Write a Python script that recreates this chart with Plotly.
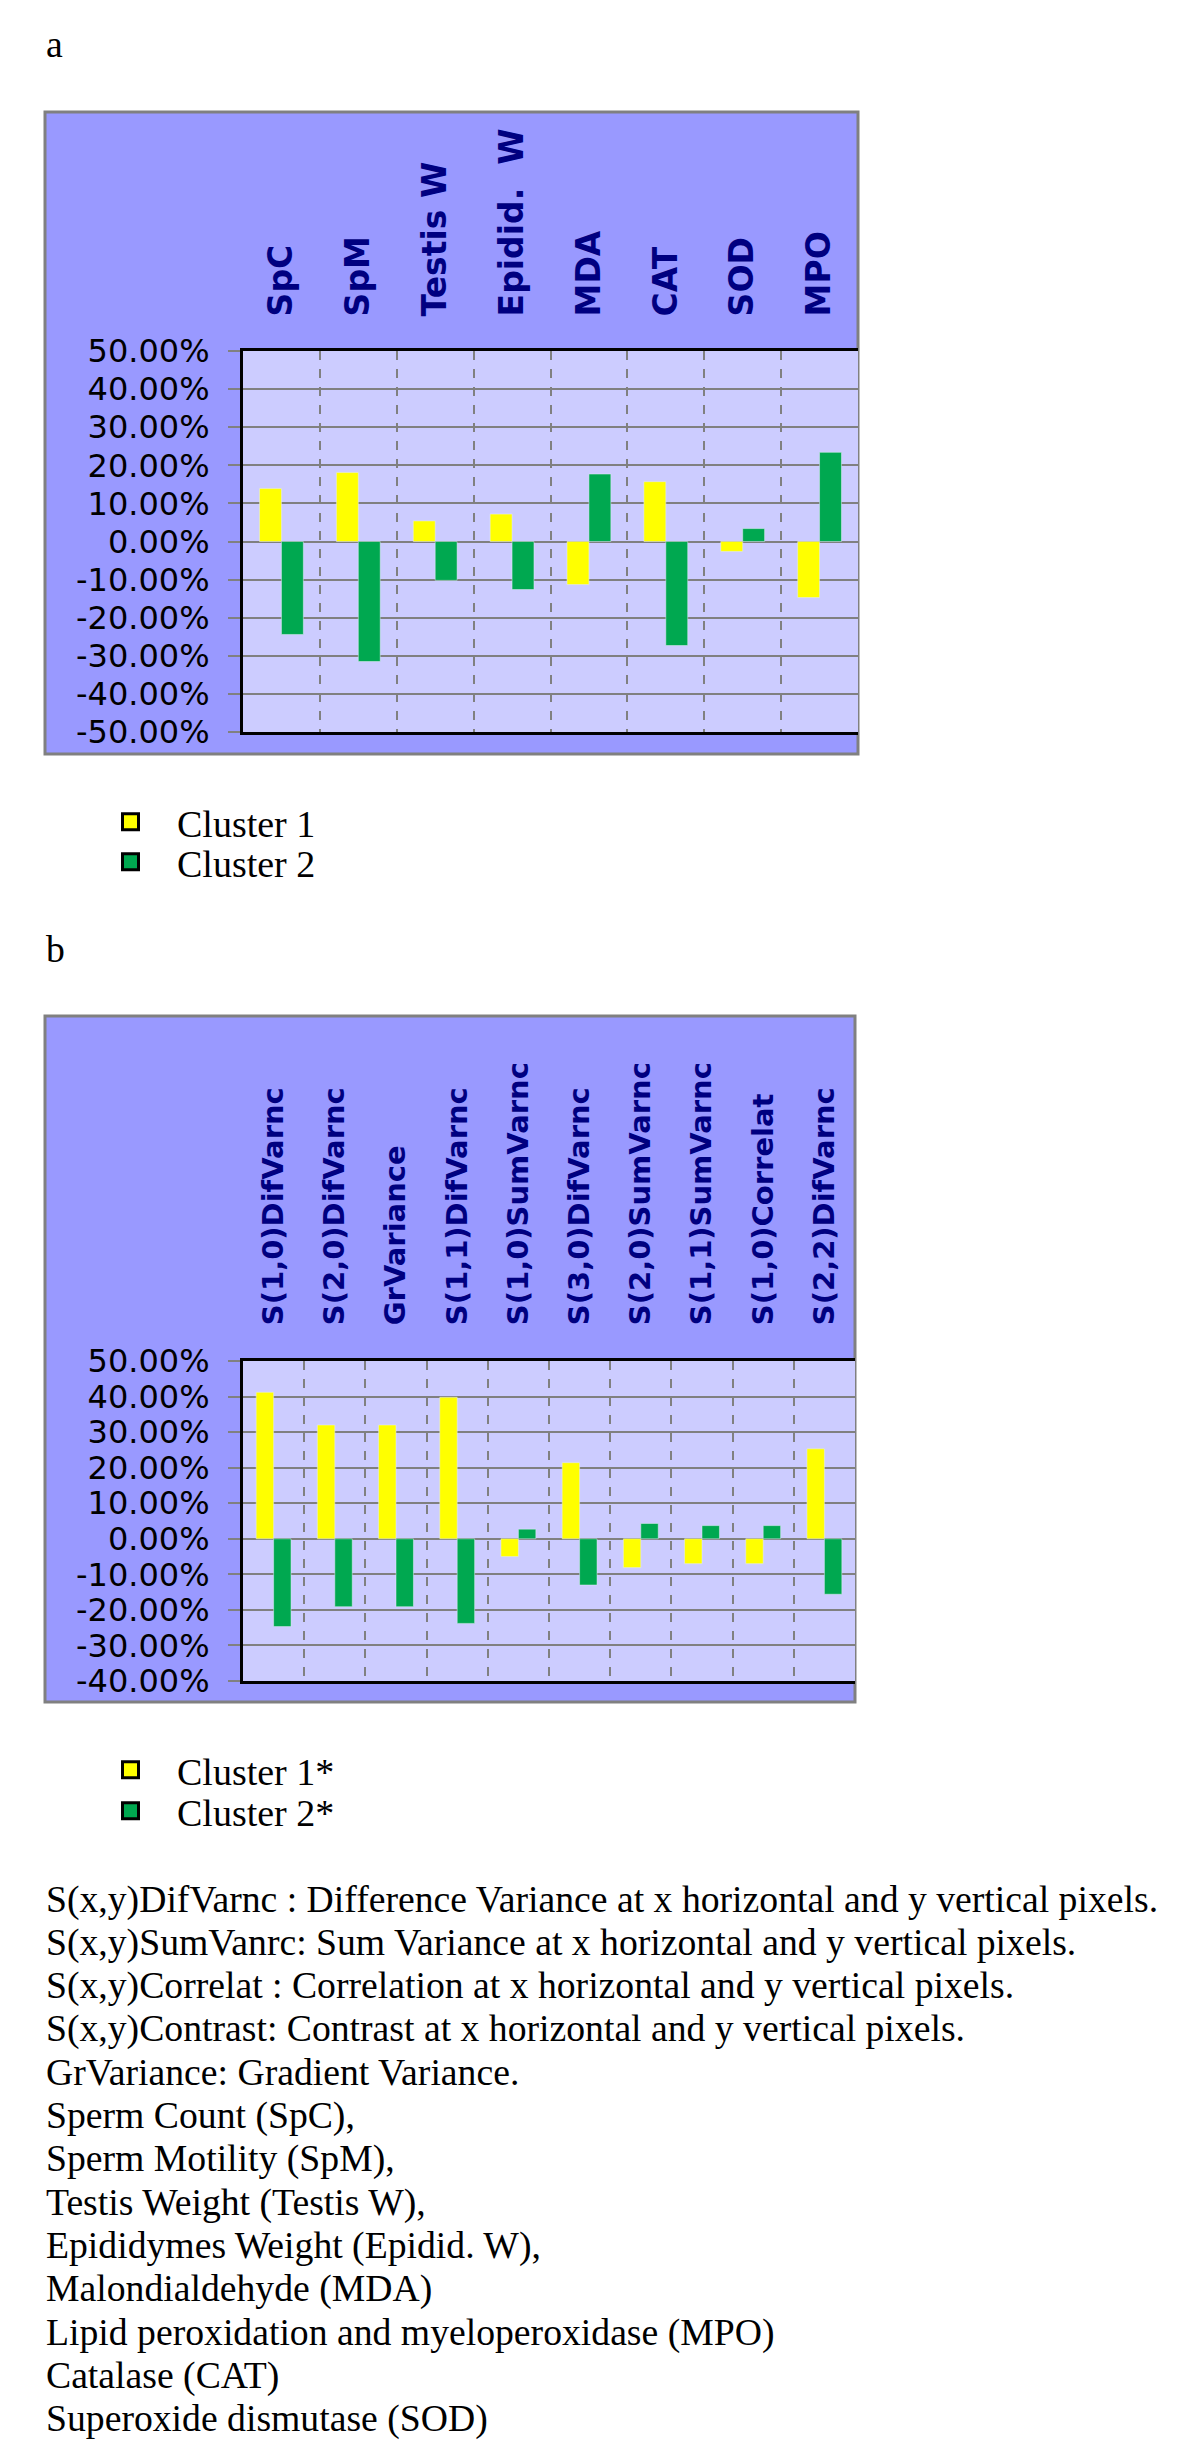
import plotly.graph_objects as go

W, H = 1200, 2463
OFF = 8  # the page body adds an 8px margin; positions below are page pixels

# panel a
cats_a = ["SpC", "SpM", "Testis W", "Epidid.  W", "MDA", "CAT", "SOD", "MPO"]
cluster1_a = [13.9, 18.1, 5.4, 7.2, -11.3, 15.7, -2.6, -14.7]
cluster2_a = [-24.4, -31.5, -10.2, -12.6, 17.7, -27.3, 3.4, 23.4]

# panel b
cats_b = ["S(1,0)DifVarnc", "S(2,0)DifVarnc", "GrVariance", "S(1,1)DifVarnc",
          "S(1,0)SumVarnc", "S(3,0)DifVarnc", "S(2,0)SumVarnc", "S(1,1)SumVarnc",
          "S(1,0)Correlat", "S(2,2)DifVarnc"]
cluster1_b = [41.2, 32.0, 32.0, 39.8, -5.0, 21.4, -8.1, -7.0, -7.0, 25.3]
cluster2_b = [-24.7, -19.1, -19.1, -23.8, 2.7, -13.0, 4.3, 3.7, 3.7, -15.6]

yticks_a = list(range(-50, 51, 10))
yticks_b = list(range(-40, 51, 10))

footnotes = [
    "S(x,y)DifVarnc : Difference Variance at x horizontal and y vertical pixels.",
    "S(x,y)SumVanrc: Sum Variance at x horizontal and y vertical pixels.",
    "S(x,y)Correlat : Correlation at x horizontal and y vertical pixels.",
    "S(x,y)Contrast: Contrast at x horizontal and y vertical pixels.",
    "GrVariance: Gradient Variance.",
    "Sperm Count (SpC),",
    "Sperm Motility (SpM),",
    "Testis Weight (Testis W),",
    "Epididymes Weight (Epidid. W),",
    "Malondialdehyde (MDA)",
    "Lipid peroxidation and myeloperoxidase (MPO)",
    "Catalase (CAT)",
    "Superoxide dismutase (SOD)",
]

YELLOW = "#FFFF00"
GREEN = "#00A850"
SERIF = "Liberation Serif"


def px(x):
    return (x - OFF) / W


def py(y):
    return 1 - (y - OFF) / H


fig = go.Figure()

fig.add_trace(go.Bar(x=cats_a, y=cluster1_a, marker_color=YELLOW, xaxis="x", yaxis="y", showlegend=False))
fig.add_trace(go.Bar(x=cats_a, y=cluster2_a, marker_color=GREEN, xaxis="x", yaxis="y", showlegend=False))
fig.add_trace(go.Bar(x=cats_b, y=cluster1_b, marker_color=YELLOW, xaxis="x2", yaxis="y2", showlegend=False))
fig.add_trace(go.Bar(x=cats_b, y=cluster2_b, marker_color=GREEN, xaxis="x2", yaxis="y2", showlegend=False))

# legend entries: one small legend per entry so each can sit where the original does
legend_items = [("Cluster 1", YELLOW, "legend", 822), ("Cluster 2", GREEN, "legend2", 862),
                ("Cluster 1*", YELLOW, "legend3", 1770), ("Cluster 2*", GREEN, "legend4", 1811)]
legends = {}
for name, col, leg, yc in legend_items:
    sub = "" if leg in ("legend", "legend2") else "2"
    fig.add_trace(go.Scatter(x=[None], y=[None], mode="markers", name=name, legend=leg,
                             xaxis="x" + sub, yaxis="y" + sub,
                             marker=dict(symbol="square", size=16, color=col,
                                         line=dict(color="black", width=3))))
    legends[leg] = dict(x=px(84), y=py(yc), xanchor="left", yanchor="middle",
                        font=dict(family=SERIF, size=38, color="black"),
                        bgcolor="rgba(0,0,0,0)", itemwidth=83)


def xax(dom, n, size, standoff):
    return dict(domain=dom, side="top", type="category", tickangle=-90,
                tickfont=dict(family="DejaVu Sans", size=size, color="#000080", weight="bold"),
                showgrid=True, gridcolor="#808080", griddash="dash", gridwidth=1.5,
                tickson="boundaries", ticks="", ticklabelstandoff=standoff,
                showline=True, linecolor="black", linewidth=3, mirror=True,
                range=[-0.5, n - 0.5], fixedrange=True, automargin=False)


def yax(dom, ticks):
    return dict(domain=dom, range=[ticks[0], ticks[-1]], tickvals=ticks,
                ticktext=[f"{v:.2f}%" for v in ticks],
                ticks="outside", ticklen=12, tickwidth=2, tickcolor="#808080",
                ticklabelstandoff=12,
                tickfont=dict(family="DejaVu Sans", size=32, color="black"),
                showgrid=True, gridcolor="#808080", gridwidth=2, zeroline=False,
                showline=True, linecolor="black", linewidth=3, fixedrange=True,
                automargin=False)


def box(x0, x1, y0, y1):
    return dict(type="rect", xref="paper", yref="paper", x0=px(x0), x1=px(x1), y0=py(y1), y1=py(y0),
                fillcolor="#9999FF", line=dict(color="#808080", width=3), layer="below")


def inner(ax):
    return dict(type="rect", xref=ax[0] + " domain", yref=ax[1] + " domain", x0=0, x1=1, y0=0, y1=1,
                fillcolor="#CCCCFF", line=dict(width=0), layer="below")


fig.update_layout(
    width=W, height=H,
    margin=dict(l=0, r=0, t=0, b=0, autoexpand=False),
    paper_bgcolor="white", plot_bgcolor="#CCCCFF",
    barmode="group", bargap=0.43, bargroupgap=0,
    xaxis=dict(xax([px(243), px(858)], len(cats_a), 33, 25), anchor="y"),
    yaxis=dict(yax([py(732), py(351)], yticks_a), anchor="x"),
    xaxis2=dict(xax([px(243), px(855)], len(cats_b), 29, 27), anchor="y2"),
    yaxis2=dict(yax([py(1681), py(1361)], yticks_b), anchor="x2"),
    shapes=[box(45, 858, 112, 754), box(45, 855, 1016, 1702),
            inner(("x", "y")), inner(("x2", "y2"))],
    **legends,
)

annotations = [
    dict(text="a", x=px(44), y=py(44), xanchor="left", yanchor="middle"),
    dict(text="b", x=px(44), y=py(949), xanchor="left", yanchor="middle"),
]
for i, line in enumerate(footnotes):
    annotations.append(dict(text=line, x=px(44), y=py(1899 + i * 43.3), xanchor="left", yanchor="middle"))
for a in annotations:
    a.update(xref="paper", yref="paper", showarrow=False,
             font=dict(family=SERIF, size=37.7, color="black"))
fig.update_layout(annotations=annotations)

fig.write_html("out.html")
